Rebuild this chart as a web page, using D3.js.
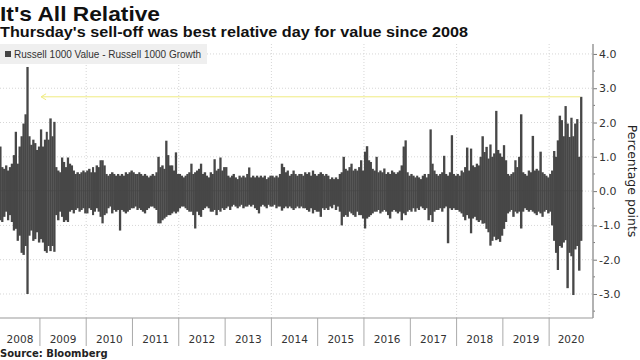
<!DOCTYPE html>
<html><head><meta charset="utf-8">
<script src="https://cdn.jsdelivr.net/npm/d3@7"></script>
<style>body{margin:0;background:#fff}svg{display:block}</style>
</head><body><svg id="c" width="640" height="360"></svg>
<script>
// Half-monthly high / low of the daily spread (Russell 1000 Value - Russell 1000 Growth), percentage points
const hi2008 = [1.3,0.7,0.65,0.75,0.6,0.7,0.8,1.05,1.73,0.8,1.3,1.6,1.97,2.24,3.62,1.6,1.35,1.5,1.4,1.2,1.3];
const lo2008 = [-0.85,-0.9,-0.75,-0.6,-0.85,-0.7,-0.9,-1.15,-1.1,-1.45,-1.3,-1.8,-1.86,-1.6,-3.0,-1.3,-1.15,-1.45,-1.4,-1.2,-1.5];
const hi2009 = [1.8,1.3,1.5,1.73,1.5,2.12,1.6,2.02,0.7,0.6,0.55,0.98,0.85,0.7,0.98,0.8,0.75,0.6,0.5,0.55,0.5,0.55,0.6,0.55];
const lo2009 = [-1.4,-1.5,-1.75,-1.8,-1.6,-1.75,-1.6,-1.77,-0.7,-0.85,-0.6,-0.75,-0.9,-0.85,-0.9,-0.6,-0.55,-0.65,-0.55,-0.5,-0.6,-0.55,-0.5,-0.65];
const hi2010 = [0.6,0.65,0.55,0.7,0.55,0.75,0.7,0.9,0.9,0.75,0.5,0.45,0.5,0.55,0.5,0.45,0.5,0.45,0.5,0.45,0.55,0.5,0.55,0.6];
const lo2010 = [-0.65,-0.5,-0.55,-0.7,-0.6,-0.5,-0.6,-0.75,-0.94,-0.7,-0.65,-0.5,-0.45,-0.65,-0.55,-0.6,-0.55,-1.15,-0.55,-0.6,-0.65,-0.6,-0.55,-0.5];
const hi2011 = [0.55,0.5,0.5,0.55,0.5,0.45,0.5,0.45,0.4,0.45,0.5,0.45,0.55,1.0,0.7,0.75,0.65,1.47,1.05,0.75,0.75,0.6,1.13,0.5];
const lo2011 = [-0.5,-0.45,-0.55,-0.5,-0.55,-0.6,-0.65,-0.55,-0.5,-0.45,-0.45,-0.5,-0.55,-0.94,-0.94,-0.85,-0.8,-0.75,-0.7,-0.7,-0.65,-0.6,-0.65,-0.6];
const hi2012 = [0.5,0.45,0.4,0.45,0.5,0.55,0.8,0.5,0.55,0.6,0.65,0.8,0.5,0.55,0.45,0.4,0.55,0.5,0.93,0.6,0.65,0.98,0.6,0.7];
const lo2012 = [-0.5,-0.45,-0.45,-0.5,-0.55,-0.6,-0.6,-0.7,-1.09,-0.6,-0.7,-0.75,-0.55,-0.5,-0.45,-0.5,-0.6,-0.6,-0.55,-0.7,-0.55,-0.6,-0.5,-0.55];
const hi2013 = [0.7,0.45,0.4,0.45,0.5,0.4,0.35,0.45,0.4,0.45,0.4,0.5,0.69,0.4,0.45,0.4,0.45,0.4,0.45,0.4,0.45,0.35,0.4,0.45];
const lo2013 = [-0.5,-0.45,-0.55,-0.45,-0.4,-0.45,-0.5,-0.45,-0.4,-0.5,-0.45,-0.45,-0.4,-0.45,-0.4,-0.5,-0.55,-0.65,-0.45,-0.4,-0.45,-0.5,-0.4,-0.45];
const hi2014 = [0.45,0.4,0.45,0.4,0.5,0.8,0.7,0.55,0.6,0.45,0.5,0.6,0.5,0.45,0.5,0.5,0.45,0.55,0.5,0.55,0.45,0.6,0.5,0.45];
const lo2014 = [-0.45,-0.4,-0.5,-0.45,-0.45,-0.57,-0.5,-0.45,-0.5,-0.45,-0.5,-0.55,-0.5,-0.45,-0.5,-0.45,-0.5,-0.5,-0.55,-0.6,-0.5,-0.65,-0.55,-0.6];
const hi2015 = [0.5,0.55,0.5,0.45,0.5,0.45,0.35,0.4,0.35,0.4,0.35,0.5,0.55,1.0,0.65,0.6,0.7,0.8,0.6,0.65,0.6,0.7,0.9,0.6];
const lo2015 = [-0.6,-0.75,-0.5,-0.55,-0.5,-0.55,-0.45,-0.5,-0.4,-0.55,-0.45,-0.6,-1.0,-0.75,-0.7,-0.75,-0.6,-0.65,-0.7,-0.75,-0.6,-0.7,-0.7,-0.8];
const hi2016 = [1.15,1.31,0.9,0.85,0.65,0.6,1.0,0.55,0.6,0.55,0.66,0.5,0.55,0.5,0.6,0.55,0.5,0.55,0.6,0.75,1.3,1.48,0.55,0.45];
const lo2016 = [-1.09,-0.8,-0.75,-0.7,-0.65,-0.6,-0.6,-0.55,-0.65,-0.6,-0.55,-0.6,-0.7,-0.8,-0.6,-0.55,-0.6,-0.65,-0.6,-0.85,-0.65,-0.7,-0.6,-0.55];
const hi2017 = [0.5,0.45,0.4,0.45,0.4,0.35,0.45,0.5,0.4,0.5,1.8,0.8,0.6,0.5,0.45,0.5,0.55,1.03,0.5,0.45,0.55,1.63,0.5,0.45];
const lo2017 = [-0.6,-0.5,-0.6,-0.5,-0.55,-0.45,-0.5,-0.55,-0.5,-0.85,-0.7,-0.9,-0.6,-0.55,-0.55,-0.5,-0.6,-0.5,-0.45,-1.52,-0.5,-0.55,-0.5,-0.55];
const hi2018 = [0.5,0.45,0.6,0.55,0.7,1.27,0.6,1.24,0.75,0.7,0.8,0.75,1.0,1.6,1.14,1.29,0.95,1.36,1.0,1.1,2.34,1.2,1.1,1.0];
const lo2018 = [-0.55,-0.6,-0.65,-0.75,-0.85,-0.7,-0.8,-1.23,-0.8,-0.75,-0.85,-0.9,-0.85,-0.95,-0.94,-1.1,-1.2,-1.59,-1.45,-1.33,-1.43,-1.4,-1.48,-1.3];
const hi2019 = [1.34,0.9,0.5,0.45,0.5,0.55,0.9,0.7,1.0,2.24,0.55,0.5,0.45,0.6,0.55,1.61,0.6,0.65,0.6,1.15,0.55,0.5,0.45,0.4];
const lo2019 = [-1.1,-0.9,-0.65,-0.6,-0.55,-0.75,-0.6,-0.65,-0.6,-1.09,-0.6,-0.5,-0.55,-0.6,-0.55,-0.6,-0.65,-0.7,-0.6,-0.65,-0.75,-0.6,-0.55,-0.65];
const hi2020 = [0.5,0.6,1.17,1.0,1.48,2.2,2.07,1.6,2.48,1.97,1.58,2.14,1.6,1.97,2.1,1.0,2.75];
const lo2020 = [-0.6,-1.0,-1.45,-1.8,-2.3,-1.6,-1.65,-1.5,-1.43,-2.83,-1.8,-1.9,-3.03,-1.7,-1.6,-2.32,-1.45];

const years = [2008,2009,2010,2011,2012,2013,2014,2015,2016,2017,2018,2019,2020];
const hiSeries = [hi2008,hi2009,hi2010,hi2011,hi2012,hi2013,hi2014,hi2015,hi2016,hi2017,hi2018,hi2019,hi2020];
const loSeries = [lo2008,lo2009,lo2010,lo2011,lo2012,lo2013,lo2014,lo2015,lo2016,lo2017,lo2018,lo2019,lo2020];
const yTicks = [-3,-2,-1,0,1,2,3,4];
const yMinor = [-3.5,-2.5,-1.5,-0.5,0.5,1.5,2.5,3.5];
const gridYears = [2010,2012,2014,2016,2018,2020];
const seriesStart = new Date(2008,1,21);
const axisEnd = new Date(2020,11,12);
const recordValue = 2.75;
const recordFrom = new Date(2009,0,10);
const recordTo = new Date(2020,8,3);

// build table
const table = [];
years.forEach((Y,i)=>{
  const h = hiSeries[i], l = loSeries[i];
  const s0 = Y === 2008 ? 24 - h.length : 0;
  h.forEach((v,j)=>{
    const k = s0 + j, m = Math.floor(k/2);
    const d0 = new Date(Y, m, k%2 ? 16 : 1);
    const d1 = k%2 ? new Date(Y, m+1, 1) : new Date(Y, m, 16);
    table.push({d0, d1, hi:v, lo:l[j]});
  });
});

const L = 0, R = 593, T = 44, B = 318;
const svg = d3.select("#c");
const x = d3.scaleTime().domain([seriesStart, axisEnd]).range([L, R]);
const y = d3.scaleLinear().domain([-3.7, 4.29]).range([B, T]);

svg.append("defs").append("clipPath").attr("id","pc")
  .append("rect").attr("x",L).attr("y",T).attr("width",R-L).attr("height",B-T);

// titles
svg.append("text").attr("x",0).attr("y",21).text("It's All Relative")
  .attr("textLength",160).attr("lengthAdjust","spacingAndGlyphs")
  .style("font","bold 21px 'Liberation Sans', Arial, sans-serif").style("fill","#111");
svg.append("text").attr("x",0).attr("y",37).text("Thursday's sell-off was best relative day for value since 2008")
  .attr("textLength",468).attr("lengthAdjust","spacingAndGlyphs")
  .style("font","bold 15.5px 'Liberation Sans', Arial, sans-serif").style("fill","#111");

// grid
const grid = svg.append("g");
grid.selectAll("line.h").data(yTicks).join("line")
  .attr("x1",L).attr("x2",R).attr("y1",d=>y(d)).attr("y2",d=>y(d))
  .attr("stroke","#d6d6d6").attr("stroke-dasharray","1,2");
grid.selectAll("line.v").data(gridYears).join("line")
  .attr("x1",d=>x(new Date(d,0,1))).attr("x2",d=>x(new Date(d,0,1)))
  .attr("y1",T).attr("y2",B)
  .attr("stroke","#d6d6d6").attr("stroke-dasharray","1,2");

// bars
const bars = svg.append("g").attr("clip-path","url(#pc)").attr("fill","#474747");
const bw = d => x(d.d1) - x(d.d0) + 0.4;
bars.selectAll("rect.p").data(table).join("rect")
  .attr("x",d=>x(d.d0)).attr("width",bw)
  .attr("y",d=>y(d.hi)).attr("height",d=>y(0)-y(d.hi));
bars.selectAll("rect.n").data(table).join("rect").attr("class","n")
  .attr("x",d=>x(d.d0)).attr("width",bw)
  .attr("y",y(0)-0.5).attr("height",d=>y(d.lo)-y(0)+0.5);

// annotation arrow
const ay = y(recordValue), ax0 = x(recordFrom), ax1 = x(recordTo);
const ann = svg.append("g").attr("stroke","#f0ec80").attr("stroke-width",1).attr("fill","none");
ann.append("line").attr("x1",ax0).attr("x2",ax1).attr("y1",ay).attr("y2",ay);
ann.append("path").attr("d",`M${ax0+5},${ay-3}L${ax0},${ay}L${ax0+5},${ay+3}`);

// legend
svg.append("rect").attr("x",0).attr("y",44).attr("width",207).attr("height",20).attr("fill","#efefef");
svg.append("rect").attr("x",5).attr("y",51).attr("width",6).attr("height",6).attr("fill","#444");
svg.append("text").attr("x",14).attr("y",58).text("Russell 1000 Value - Russell 1000 Growth")
  .style("font","10px 'Liberation Sans', Arial, sans-serif").style("fill","#333");

// y axis
const ya = svg.append("g").attr("transform",`translate(${R},0)`)
  .call(d3.axisRight(y).tickValues(yTicks).tickSize(4).tickPadding(2).tickFormat(d=>d.toFixed(1)));
ya.select(".domain").remove();
ya.selectAll("text").style("font","11px 'DejaVu Sans', sans-serif").style("fill","#333");
ya.selectAll(".tick line").attr("stroke","#777");
svg.append("g").selectAll("line").data(yMinor).join("line")
  .attr("x1",R).attr("x2",R+2).attr("y1",d=>y(d)).attr("y2",d=>y(d)).attr("stroke","#777");
svg.append("line").attr("x1",R).attr("x2",R).attr("y1",T).attr("y2",B).attr("stroke","#999").attr("stroke-width",1.5);
svg.append("text").attr("transform",`translate(628,${(T+B)/2}) rotate(90)`).attr("text-anchor","middle")
  .text("Percentage points").style("font","12.5px 'DejaVu Sans', sans-serif").style("fill","#222");

// x axis
svg.append("line").attr("x1",L).attr("x2",R).attr("y1",B).attr("y2",B).attr("stroke","#999").attr("stroke-width",1.2);
const xa = svg.append("g");
xa.selectAll("line").data(years.slice(1)).join("line")
  .attr("x1",d=>x(new Date(d,0,1))).attr("x2",d=>x(new Date(d,0,1)))
  .attr("y1",B).attr("y2",346).attr("stroke","#aaa");
xa.selectAll("text").data(years).join("text")
  .attr("x",d=>(Math.max(L,x(new Date(d,0,1))) + Math.min(R,x(new Date(d+1,0,1))))/2)
  .attr("y",343).attr("text-anchor","middle").text(d=>d)
  .style("font","10.5px 'DejaVu Sans', sans-serif").style("fill","#333");

svg.append("text").attr("x",0).attr("y",357).text("Source: Bloomberg")
  .style("font","bold 10px 'DejaVu Sans', sans-serif").style("fill","#222");
</script></body></html>
